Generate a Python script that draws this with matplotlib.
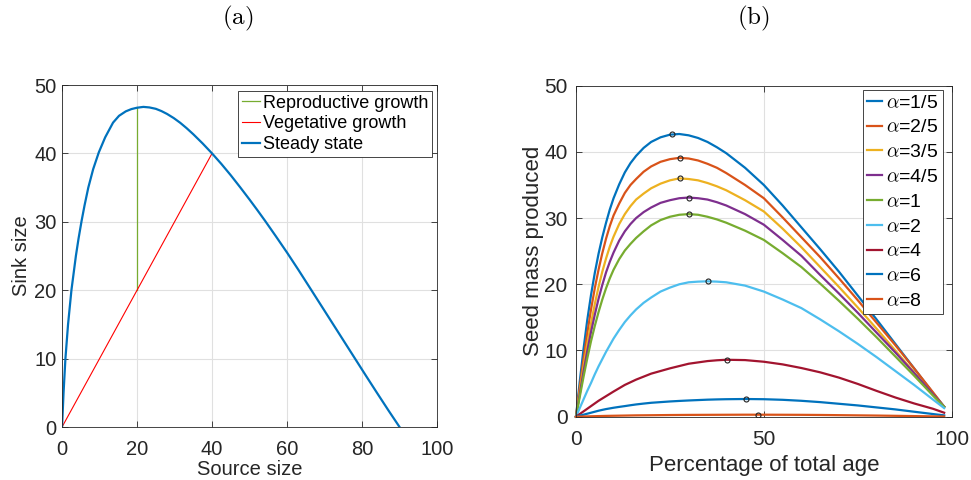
import matplotlib
matplotlib.use("Agg")
import matplotlib.pyplot as plt

plt.rcParams['font.family'] = ['Liberation Sans', 'DejaVu Sans']
plt.rcParams['mathtext.fontset'] = 'cm'

# ---- panel (a): source/sink phase diagram ----
source_size = [0, 0.4, 0.9, 1.6, 2.5, 3.7, 4.4, 5.2, 6.0, 7.0, 8.3, 9.8, 11.5, 13.6,
               15.2, 17, 18.5, 20, 21.7, 23.3, 25, 26.5, 28, 29.8, 31.5, 33.2, 35,
               37.5, 40, 42.5, 45, 47.5, 50, 52, 54.2, 57, 60, 63, 66.5, 69, 72, 75,
               78.5, 81, 84, 87, 90]
sink_size = [0, 5, 10, 15, 20, 25.05, 27.55, 30.1, 32.4, 35.0, 37.7, 40.15, 42.35, 44.5,
             45.5, 46.15, 46.48, 46.68, 46.8, 46.72, 46.52, 46.19, 45.77, 45.16, 44.48,
             43.7, 42.8, 41.45, 40, 38.45, 36.8, 35.05, 33.25, 31.77, 30.1, 27.9, 25.5,
             23.0, 20.0, 17.85, 15.27, 12.69, 9.68, 7.53, 4.98, 2.46, 0]
veg_x = [0, 40]
veg_y = [0, 40]
rep_x = [20, 20]
rep_y = [20, 46.68]

# ---- panel (b): seed mass vs. percentage of total age ----
age = [0, 1, 2, 3, 4, 5, 6, 7, 8, 9, 10, 11.5, 13, 14.5, 16, 18, 20, 22.5, 25, 27.5,
       30, 32.5, 35, 37.5, 40, 45, 50, 55, 60, 65, 70, 75, 80, 85, 90, 95, 98]
seed_a1_5 = [0, 5.3, 10.2, 14.6, 18.4, 21.7, 24.6, 27.1, 29.3, 31.3, 33.0,
             35.1, 36.9, 38.3, 39.4, 40.6, 41.5,
             42.2, 42.6, 42.7, 42.5, 42.1, 41.5, 40.7, 39.8,
             37.6, 35.0, 31.9, 28.6, 25.3, 21.9, 18.3, 14.7, 11.0, 7.3, 3.6, 1.5]
seed_a2_5 = [0, 4.5, 8.7, 12.6, 16.2, 19.4, 22.2, 24.7, 26.9, 28.8, 30.4,
             32.2, 33.8, 35.0, 35.9, 37.0, 37.8,
             38.5, 38.9, 39.1, 39.0, 38.7, 38.2, 37.6, 36.8,
             35.0, 33.0, 30.1, 27.1, 24.1, 20.9, 17.6, 14.2, 10.8, 7.3, 3.7, 1.5]
seed_a3_5 = [0, 3.9, 7.6, 11.0, 14.1, 17.0, 19.6, 21.9, 23.9, 25.7, 27.2,
             29.1, 30.6, 31.8, 32.8, 33.7, 34.5,
             35.2, 35.7, 36.0, 35.9, 35.7, 35.3, 34.8, 34.2,
             32.7, 31.0, 28.4, 25.6, 22.6, 19.6, 16.5, 13.3, 10.0, 6.7, 3.3, 1.5]
seed_a4_5 = [0, 3.4, 6.8, 9.9, 12.8, 15.4, 17.8, 19.9, 21.8, 23.4, 24.8,
             26.6, 28.0, 29.1, 30.0, 30.9, 31.6,
             32.3, 32.7, 33.0, 33.1, 33.0, 32.8, 32.4, 31.9,
             30.6, 29.0, 26.7, 24.3, 21.4, 18.6, 15.7, 12.7, 9.7, 6.6, 3.4, 1.5]
seed_a1 = [0, 3.0, 6.0, 8.8, 11.4, 13.7, 15.8, 17.7, 19.4, 20.9, 22.2,
           23.8, 25.1, 26.1, 27.0, 28.0, 28.9,
           29.7, 30.2, 30.5, 30.6, 30.5, 30.2, 29.8, 29.3,
           28.1, 26.7, 24.7, 22.6, 20.1, 17.5, 14.8, 12.0, 9.1, 6.2, 3.2, 1.5]
seed_a2 = [0, 1.3, 2.6, 3.9, 5.1, 6.4, 7.6, 8.7, 9.8, 10.8, 11.8,
           13.1, 14.3, 15.3, 16.2, 17.2, 18.0,
           18.9, 19.5, 20.0, 20.3, 20.4, 20.45, 20.4, 20.3,
           19.8, 18.9, 17.7, 16.4, 14.7, 12.9, 11.0, 9.0, 6.9, 4.8, 2.6, 1.3]
seed_a4 = [0, 0.4, 0.8, 1.2, 1.6, 2.0, 2.4, 2.75, 3.1, 3.45, 3.8,
           4.3, 4.8, 5.2, 5.6, 6.05, 6.5,
           6.9, 7.3, 7.65, 8.0, 8.2, 8.4, 8.52, 8.6,
           8.55, 8.3, 7.9, 7.35, 6.7, 5.9, 4.95, 3.9, 2.9, 2.0, 1.2, 0.6]
seed_a6 = [0, 0.15, 0.3, 0.45, 0.6, 0.75, 0.9, 1.03, 1.15, 1.25, 1.35,
           1.48, 1.6, 1.73, 1.85, 1.98, 2.1,
           2.2, 2.3, 2.38, 2.45, 2.51, 2.57, 2.61, 2.64,
           2.67, 2.64, 2.55, 2.4, 2.2, 1.95, 1.7, 1.4, 1.1, 0.75, 0.4, 0.2]
seed_a8 = [0, 0.015, 0.03, 0.045, 0.06, 0.075, 0.09, 0.105, 0.12, 0.13, 0.14,
           0.155, 0.17, 0.185, 0.2, 0.21, 0.22,
           0.235, 0.25, 0.26, 0.27, 0.275, 0.28, 0.285, 0.29,
           0.3, 0.3, 0.29, 0.28, 0.26, 0.23, 0.2, 0.17, 0.13, 0.09, 0.05, 0.03]
alpha_labels = ['1/5', '2/5', '3/5', '4/5', '1', '2', '4', '6', '8']
peak_age = [25.6, 27.8, 27.8, 30.2, 30.2, 35.1, 40.1, 45.3, 48.5]
peak_seed = [42.7, 39.1, 36.0, 33.1, 30.6, 20.45, 8.6, 2.67, 0.3]

series = [seed_a1_5, seed_a2_5, seed_a3_5, seed_a4_5, seed_a1, seed_a2, seed_a4,
          seed_a6, seed_a8]
colors = ['#0072BD', '#D95319', '#EDB120', '#7E2F8E', '#77AC30', '#4DBEEE',
          '#A2142F', '#0072BD', '#D95319']

axis_color = '#262626'
grid_color = '#e0e0e0'


def style_axes(ax, fs, xpad, ypad):
    for s in ax.spines.values():
        s.set_color(axis_color)
        s.set_linewidth(0.6)
    ax.tick_params(direction='in', top=True, right=True, length=4, width=0.6,
                   colors=axis_color, labelsize=fs)
    ax.tick_params(axis='x', pad=xpad)
    ax.tick_params(axis='y', pad=ypad)
    ax.grid(True, color=grid_color, linewidth=0.8)
    ax.set_axisbelow(True)


fig = plt.figure(figsize=(9.71, 4.8), dpi=100)

# panel (a)
ax1 = fig.add_axes([0.0639, 0.1104, 0.3862, 0.7125])
ax1.plot(rep_x, rep_y, color='#77AC30', lw=0.9, label='Reproductive growth')
ax1.plot(veg_x, veg_y, color='#FF0000', lw=0.8, label='Vegetative growth')
ax1.plot(source_size, sink_size, color='#0072BD', lw=1.6, label='Steady state')
ax1.set_xlim(0, 100)
ax1.set_ylim(0, 50)
ax1.set_xticks([0, 20, 40, 60, 80, 100])
ax1.set_yticks([0, 10, 20, 30, 40, 50])
style_axes(ax1, 14.5, 9, 4)
ax1.set_xlabel('Source size', fontsize=14.5, color=axis_color, labelpad=1)
ax1.set_ylabel('Sink size', fontsize=14.5, color=axis_color, labelpad=2)
leg1 = ax1.legend(loc='upper right', bbox_to_anchor=(0.987, 0.982), borderaxespad=0,
                  fontsize=13, handlelength=1.0, handletextpad=0.2, labelspacing=0.2,
                  borderpad=0.2, fancybox=False, framealpha=1)
leg1.get_frame().set_edgecolor(axis_color)
leg1.get_frame().set_linewidth(0.6)

# panel (b)
ax2 = fig.add_axes([0.5932, 0.1319, 0.3869, 0.6896])
for ys, c, lab in zip(series, colors, alpha_labels):
    ax2.plot(age, ys, color=c, lw=1.6, label=r'$\alpha$=' + lab, clip_on=False)
ax2.plot(peak_age, peak_seed, linestyle='none', marker='o', markersize=3.6,
         markerfacecolor='none', markeredgecolor='#222222', markeredgewidth=0.8)
ax2.set_xlim(0, 100)
ax2.set_ylim(0, 50)
ax2.set_xticks([0, 50, 100])
ax2.set_yticks([0, 10, 20, 30, 40, 50])
style_axes(ax2, 15, 9.5, 6)
ax2.set_xlabel('Percentage of total age', fontsize=16, color=axis_color, labelpad=4.5)
ax2.set_ylabel('Seed mass produced', fontsize=16, color=axis_color, labelpad=0.5)
leg2 = ax2.legend(loc='upper right', bbox_to_anchor=(0.976, 0.988), borderaxespad=0,
                  fontsize=14, handlelength=0.8, handletextpad=0.2, labelspacing=0.37,
                  borderpad=0.22, fancybox=False, framealpha=1)
leg2.get_frame().set_edgecolor(axis_color)
leg2.get_frame().set_linewidth(0.6)

fig.text(238 / 971, 1 - 18 / 480, r'$\mathrm{(a)}$', fontsize=18, ha='center', va='center')
fig.text(753 / 971, 1 - 18 / 480, r'$\mathrm{(b)}$', fontsize=18, ha='center', va='center')

fig.savefig('out.png', dpi=100)
